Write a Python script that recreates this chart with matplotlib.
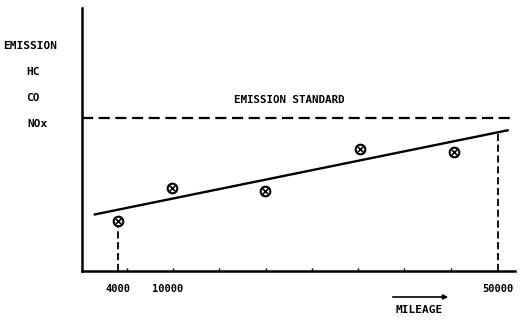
import numpy as np
import matplotlib
matplotlib.use("Agg")
import matplotlib.pyplot as plt

# readings from the picture (emission in units of the standard)
mileage_pts = [4000, 10500, 21800, 33300, 44700]
emission_pts = [0.33, 0.54, 0.52, 0.80, 0.78]
fit_x = [1200, 51200]
fit_y = [0.37, 0.92]
standard = 1.0
tick_miles = [4000, 10000, 50000]
tick_labels = ["4000", "10000", "50000"]
minor_miles = [5100, 10700, 16200, 21900, 27500, 33100, 38700, 44400]
ylabels = ["EMISSION", "HC", "CO", "NOx"]

font = dict(family="DejaVu Sans Mono", fontweight="bold")

fig = plt.figure(figsize=(5.2, 3.22), dpi=100)
ax = fig.add_axes([82 / 520, 51 / 322, 433 / 520, 263 / 322])

ax.set_xlim(-360, 52100)
ax.set_ylim(0, 1.72)

# emission standard
ax.axhline(standard, color="black", lw=1.6, ls=(0, (5, 2.5)))
ax.text(18000, standard + 0.12, "EMISSION STANDARD", fontsize=7.8, ha="left", va="center", **font)

# trend line
ax.plot(fit_x, fit_y, color="black", lw=1.7)

# measured points
ax.scatter(mileage_pts, emission_pts, s=48, facecolor="white", edgecolor="black", lw=1.5, zorder=3)
ax.scatter(mileage_pts, emission_pts, s=16, marker="x", color="black", lw=1.2, zorder=4)

# drop lines at first point and at 50000
ax.plot([mileage_pts[0], mileage_pts[0]], [0, emission_pts[0]], color="black", lw=1.3, ls=(0, (4, 2)))
slope = (fit_y[1] - fit_y[0]) / (fit_x[1] - fit_x[0])
y50 = fit_y[0] + slope * (tick_miles[-1] - fit_x[0])
ax.plot([tick_miles[-1], tick_miles[-1]], [0, y50], color="black", lw=1.3, ls=(0, (4, 2)))

for s in ["top", "right"]:
    ax.spines[s].set_visible(False)
ax.spines["left"].set_linewidth(1.8)
ax.spines["bottom"].set_linewidth(1.8)

ax.set_xticks(tick_miles)
ax.set_xticklabels(tick_labels, fontsize=7.5, **font)
ax.set_xticks(minor_miles, minor=True)
ax.tick_params(axis="x", which="major", length=0, pad=9)
ax.tick_params(axis="x", which="minor", direction="in", length=2, width=1)
ax.set_yticks([])

# left-side labels
ys = [46, 72, 98, 124]
xs = [3, 26, 26, 27]
for lab, x, y in zip(ylabels, xs, ys):
    fig.text(x / 520, 1 - y / 322, lab, fontsize=8, ha="left", va="center", **font)

# mileage label with arrow
fig.text(419 / 520, 1 - 310 / 322, "MILEAGE", fontsize=8, ha="center", va="center", **font)
ax.annotate("", xy=(451 / 520, 1 - 297 / 322), xytext=(390 / 520, 1 - 297 / 322),
            xycoords="figure fraction", textcoords="figure fraction",
            arrowprops=dict(arrowstyle="-|>", color="black", lw=1.2, mutation_scale=7),
            annotation_clip=False)

fig.savefig("out.png", dpi=100)
